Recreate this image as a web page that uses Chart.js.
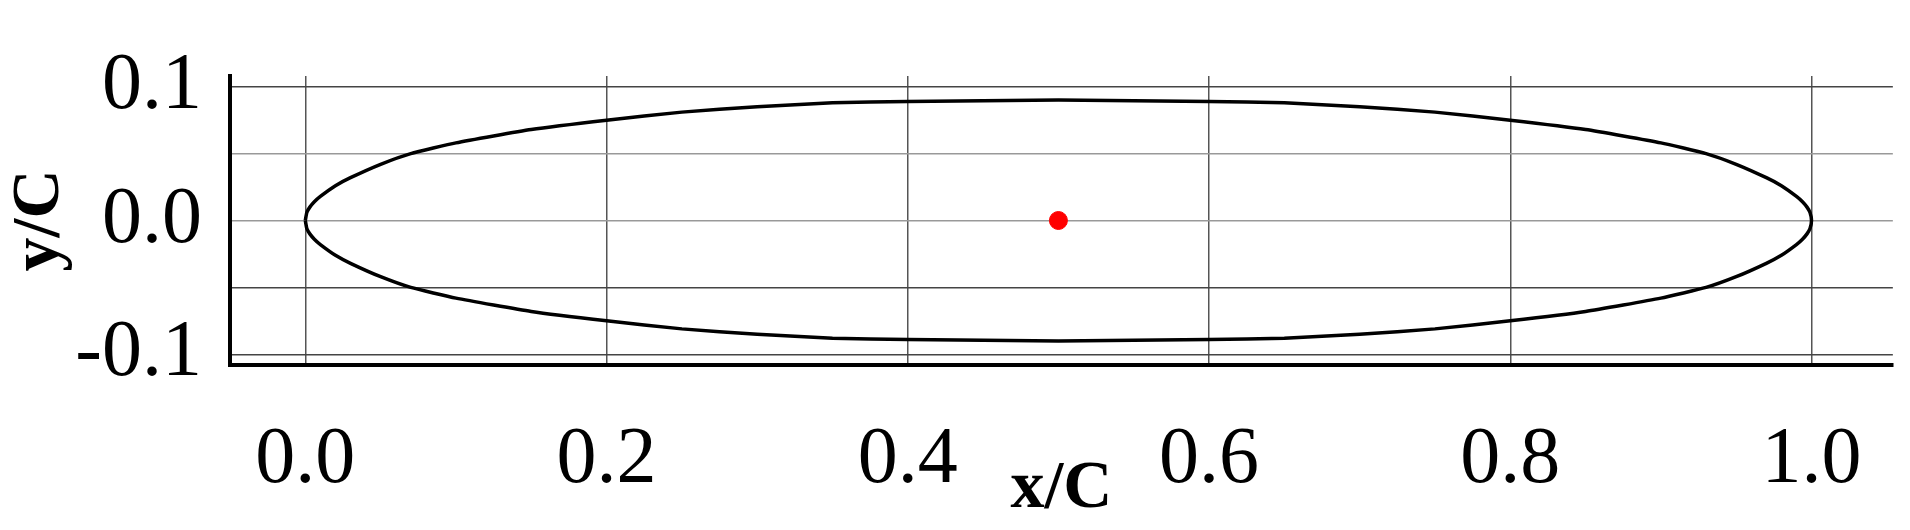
<!DOCTYPE html>
<html>
<head>
<meta charset="utf-8">
<script src="https://cdn.jsdelivr.net/npm/chart.js@4/dist/chart.umd.min.js"></script>
<style>
  html, body { margin: 0; padding: 0; background: #fff; }
  #wrap { width: 1910px; height: 530px; }
</style>
</head>
<body>
<div id="wrap"><canvas id="foil"></canvas></div>
<script>
// profile outline (upper surface, x/C -> y/C)
const upperX = [0, 0.001, 0.003, 0.006, 0.01, 0.02, 0.03, 0.05, 0.07, 0.1, 0.15, 0.2, 0.25, 0.3, 0.35, 0.4, 0.5, 0.6, 0.65, 0.7, 0.75, 0.8, 0.85, 0.9, 0.93, 0.95, 0.97, 0.98, 0.99, 0.994, 0.997, 0.999, 1.0];
const upperY = [0, 0.006, 0.010, 0.014, 0.018, 0.026, 0.032, 0.042, 0.05, 0.058, 0.068, 0.075, 0.081, 0.085, 0.088, 0.089, 0.09, 0.089, 0.088, 0.085, 0.081, 0.075, 0.068, 0.058, 0.05, 0.042, 0.032, 0.026, 0.018, 0.014, 0.010, 0.006, 0];
const centerX = [0.5];
const centerY = [0];
const xTicks = [0, 0.1, 0.2, 0.3, 0.4, 0.5, 0.6, 0.7, 0.8, 0.9, 1.0];
const yTicks = [-0.1, -0.05, 0, 0.05, 0.1];

// closed loop: upper surface forwards, lower surface back
const outline = upperX.map((x, i) => ({ x: x, y: upperY[i] }))
    .concat(upperX.slice().reverse().slice(1).map((x, i) => ({ x: x, y: -upperY[upperY.length - 2 - i] })));

const isMajorX = v => Math.abs(Math.round(v * 10) % 2) === 0;
const isMajorY = v => Math.abs(Math.round(v * 100) % 10) === 0;

const ctx = document.getElementById('foil').getContext('2d');
new Chart(ctx, {
    type: 'scatter',
    data: {
        datasets: [{
            data: outline,
            showLine: true,
            borderColor: '#000',
            borderWidth: 3.5,
            pointRadius: 0,
            tension: 0.15,
            fill: false
        }, {
            data: centerX.map((x, i) => ({ x: x, y: centerY[i] })),
            pointRadius: 9,
            pointBackgroundColor: '#ff0000',
            pointBorderColor: '#ff0000'
        }]
    },
    options: {
        responsive: true,
        maintainAspectRatio: false,
        animation: false,
        layout: { padding: { top: 0, right: 6, left: 0, bottom: 0 } },
        plugins: { legend: { display: false }, tooltip: { enabled: false } },
        scales: {
            x: {
                min: -0.05,
                max: 1.054,
                afterBuildTicks: s => { s.ticks = xTicks.map(v => ({ value: v })); },
                afterFit: s => { s.height = 165; },
                border: { color: '#000', width: 4 },
                grid: {
                    color: c => isMajorX(c.tick.value) ? '#555' : 'rgba(0,0,0,0)',
                    lineWidth: 1.5,
                    drawTicks: false
                },
                ticks: {
                    color: '#000',
                    padding: 48,
                    maxRotation: 0,
                    autoSkip: false,
                    font: { family: 'Liberation Serif', size: 80 },
                    callback: v => isMajorX(v) ? v.toFixed(1) : ''
                },
                title: {
                    display: true,
                    text: 'x/C',
                    color: '#000',
                    padding: { top: 0, bottom: 0 },
                    font: { family: 'Liberation Serif', size: 68, weight: 'bold' }
                }
            },
            y: {
                min: -0.108,
                max: 0.108,
                afterBuildTicks: s => { s.ticks = yTicks.map(v => ({ value: v })); },
                afterFit: s => { s.width = 230; },
                border: { color: '#000', width: 4 },
                grid: {
                    color: c => (c.tick.value === 0 || c.tick.value === 0.05) ? '#999' : '#444',
                    lineWidth: 1.5,
                    drawTicks: false
                },
                ticks: {
                    color: '#000',
                    padding: 28,
                    autoSkip: false,
                    font: { family: 'Liberation Serif', size: 80 },
                    callback: v => isMajorY(v) ? v.toFixed(1) : ''
                },
                title: {
                    display: true,
                    text: 'y/C',
                    color: '#000',
                    padding: { top: 0, bottom: 0 },
                    font: { family: 'Liberation Serif', size: 68, weight: 'bold' }
                }
            }
        }
    }
});
</script>
</body>
</html>
